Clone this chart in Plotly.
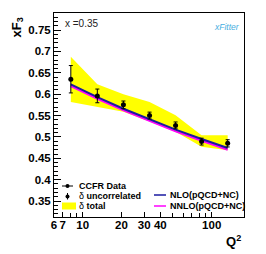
import plotly.graph_objects as go
import numpy as np

# ---- data ----
q2 = [8.1, 13.0, 20.7, 33.0, 52.5, 83.5, 133.0]
xf3 = [0.635, 0.596, 0.575, 0.550, 0.527, 0.489, 0.485]
err_uncorr = [0.032, 0.016, 0.009, 0.008, 0.008, 0.008, 0.0085]
band_upper = [0.6875, 0.623, 0.600, 0.582, 0.551, 0.504, 0.504]
band_lower = [0.582, 0.571, 0.559, 0.536, 0.512, 0.477, 0.469]
nlo = [0.623, 0.593, 0.566, 0.541, 0.517, 0.495, 0.474]
nnlo = [0.619, 0.589, 0.562, 0.537, 0.513, 0.491, 0.470]
x_tickvals = [6, 7, 10, 20, 30, 40, 100]
x_ticktext = ["6", "7", "10", "20", "30", "40", "100"]
x_minor = [8, 9, 50, 60, 70, 80, 90]
y_tickvals = [0.35, 0.4, 0.45, 0.5, 0.55, 0.6, 0.65, 0.7, 0.75]
y_ticktext = ["0.35", "0.4", "0.45", "0.5", "0.55", "0.6", "0.65", "0.7", "0.75"]

# page body has an 8px default margin, so the figure is drawn 8px smaller
OFF = 8
WREF, HREF = 266, 254
W, H = WREF - OFF, HREF - OFF
L, R, T, B = 54, 244, 13, 217   # plot frame in window pixels

def px(X):
    return (X - L) / (R - L)

def py(Y):
    return (B - Y) / (B - T)

fig = go.Figure()
fig.add_trace(go.Scatter(x=q2, y=band_upper, mode="lines", line=dict(width=0, color="#ffff00"),
                         showlegend=False, hoverinfo="skip"))
fig.add_trace(go.Scatter(x=q2, y=band_lower, mode="lines", line=dict(width=0, color="#ffff00"),
                         fill="tonexty", fillcolor="#ffff00", showlegend=False, hoverinfo="skip"))
fig.add_trace(go.Scatter(x=q2, y=nnlo, mode="lines", line=dict(width=2, color="#ff00ff"), showlegend=False))
fig.add_trace(go.Scatter(x=q2, y=nlo, mode="lines", line=dict(width=2, color="#1a1aa0"), showlegend=False))
fig.add_trace(go.Scatter(x=q2, y=xf3, mode="markers",
                         marker=dict(size=5, color="black"),
                         error_y=dict(type="data", array=err_uncorr, color="black", thickness=1, width=2),
                         showlegend=False))

font_b = "Liberation Sans"
lfont = dict(size=9, family=font_b, color="black")

def ann(X, Y, text, font, xanchor="center", **kw):
    return dict(x=px(X), y=py(Y), text=text, showarrow=False, xref="paper", yref="paper",
                xanchor=xanchor, yanchor="middle", font=font, **kw)

annotations = [
    ann(17, 27.5, "<b>xF<sub>3</sub></b>", dict(size=13, family=font_b, color="black"), textangle=-90),
    ann(233, 241, "<b>Q<sup>2</sup></b>", dict(size=13, family=font_b, color="black")),
    ann(63, 23.5, "x =0.35", dict(size=10, family=font_b, color="#222"), xanchor="left"),
    ann(227, 27, "<i>xFitter</i>", dict(size=8.5, family=font_b, color="#45aee0")),
    ann(77, 186, "<b>CCFR Data</b>", lfont, xanchor="left"),
    ann(77, 196, "δ <b>uncorrelated</b>", lfont, xanchor="left"),
    ann(77, 206, "δ <b>total</b>", lfont, xanchor="left"),
    ann(168, 195, "<b>NLO(pQCD+NC)</b>", lfont, xanchor="left"),
    ann(168, 206, "<b>NNLO(pQCD+NC)</b>", lfont, xanchor="left"),
]

shapes = [
    dict(type="line", xref="paper", yref="paper", x0=px(62), x1=px(73), y0=py(186), y1=py(186),
         line=dict(color="black", width=1)),
    dict(type="circle", xref="paper", yref="paper", x0=px(65.5), x1=px(69.5), y0=py(184), y1=py(188),
         fillcolor="black", line=dict(width=0)),
    dict(type="line", xref="paper", yref="paper", x0=px(67.5), x1=px(67.5), y0=py(193), y1=py(199.5),
         line=dict(color="black", width=1)),
    dict(type="circle", xref="paper", yref="paper", x0=px(65.5), x1=px(69.5), y0=py(194.5), y1=py(198.5),
         fillcolor="black", line=dict(width=0)),
    dict(type="rect", xref="paper", yref="paper", x0=px(62), x1=px(76), y0=py(202.5), y1=py(209.5),
         fillcolor="#ffff00", line=dict(width=0)),
    dict(type="line", xref="paper", yref="paper", x0=px(154), x1=px(166), y0=py(195), y1=py(195),
         line=dict(color="#1a1aa0", width=1.5)),
    dict(type="line", xref="paper", yref="paper", x0=px(154), x1=px(166), y0=py(206), y1=py(206),
         line=dict(color="#ff00ff", width=1.5)),
]

tickfont = dict(size=11.5, family=font_b, color="black", weight="bold")
fig.update_layout(
    template="none",
    width=W, height=H,
    margin=dict(l=L - OFF, r=WREF - R, t=T - OFF, b=HREF - B, pad=0, autoexpand=False),
    paper_bgcolor="white", plot_bgcolor="white",
    showlegend=False,
    annotations=annotations, shapes=shapes,
    xaxis=dict(type="log", range=[np.log10(6), np.log10(178)], automargin=False,
               tickvals=x_tickvals, ticktext=x_ticktext, ticks="inside", ticklen=5,
               tickcolor="black", tickwidth=1, ticklabelstandoff=-3,
               minor=dict(tickvals=x_minor, ticks="inside", ticklen=4, tickcolor="black"),
               showgrid=False, zeroline=False, showline=True, linecolor="black", linewidth=1,
               mirror=True, tickfont=tickfont),
    yaxis=dict(range=[0.3126, 0.79], automargin=False, tickvals=y_tickvals, ticktext=y_ticktext,
               ticks="inside", ticklen=7, tickcolor="black", tickwidth=1,
               minor=dict(dtick=0.01, ticks="inside", ticklen=4, tickcolor="black"),
               showgrid=False, zeroline=False, showline=True, linecolor="black", linewidth=1,
               mirror=True, tickfont=tickfont),
)

fig.write_html("out.html")
